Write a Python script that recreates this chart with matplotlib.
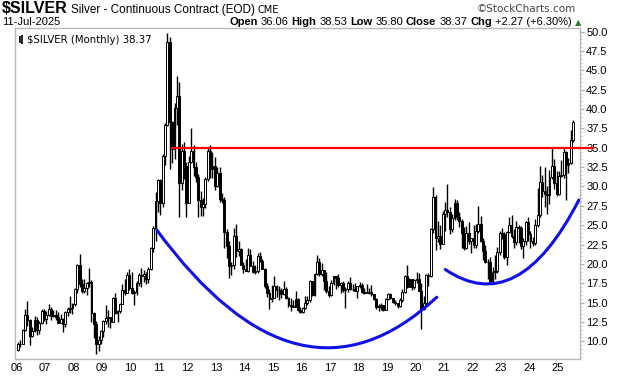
import numpy as np
import matplotlib
matplotlib.use("Agg")
import matplotlib.pyplot as plt
from matplotlib.path import Path
from matplotlib.patches import PathPatch
from matplotlib.ticker import MultipleLocator

# monthly $SILVER candles, Jan 2006 .. Jul 2025
first_open = 8.83
closes = [
    9.61, 9.71, 11.52, 13.45, 12.80, 10.70, 11.30, 12.80, 11.50, 12.40, 13.90, 12.90,
    13.40, 14.20, 13.30, 13.40, 13.20, 12.40, 12.90, 12.20, 13.80, 14.20, 14.30, 14.80,
    16.80, 19.80, 17.40, 16.50, 16.90, 17.50, 17.70, 13.60, 12.30, 9.70, 10.20, 11.30,
    12.60, 13.00, 13.10, 12.50, 15.60, 13.60, 13.90, 14.80, 16.60, 16.20, 18.60, 16.90,
    16.20, 16.40, 17.50, 18.60, 18.40, 18.70, 18.00, 19.40, 22.00, 24.70, 28.10, 30.90,
    27.90, 33.90, 37.90, 48.60, 38.30, 34.90, 40.10, 41.70, 30.40, 34.60, 32.70, 27.90,
    33.20, 34.60, 32.50, 31.20, 28.20, 27.40, 27.80, 31.00, 34.60, 32.20, 32.70, 30.00,
    31.70, 28.40, 28.30, 24.10, 22.30, 19.70, 19.80, 23.60, 21.70, 21.90, 19.80, 19.40,
    19.10, 21.20, 19.70, 19.00, 19.10, 21.00, 20.40, 19.40, 17.10, 16.20, 15.50, 15.60,
    17.20, 16.60, 16.60, 16.10, 16.80, 15.60, 14.70, 14.60, 14.50, 15.50, 14.10, 13.80,
    14.30, 14.90, 15.40, 17.80, 16.00, 18.70, 20.30, 18.70, 19.20, 17.80, 16.50, 16.00,
    17.50, 18.40, 18.20, 17.30, 17.50, 16.60, 16.70, 17.60, 16.70, 16.70, 16.50, 17.10,
    17.30, 16.40, 16.30, 16.30, 16.40, 16.10, 15.50, 14.50, 14.60, 14.70, 14.10, 15.50,
    16.10, 15.60, 15.10, 14.90, 14.60, 15.30, 16.40, 18.40, 17.00, 18.10, 17.00, 17.90,
    18.00, 16.50, 14.20, 15.00, 18.60, 18.50, 24.50, 28.70, 23.40, 23.60, 22.60, 26.40,
    26.90, 26.70, 24.50, 25.90, 27.90, 26.10, 25.50, 24.00, 22.00, 24.00, 23.00, 23.30,
    22.40, 24.30, 25.10, 23.00, 21.70, 20.30, 20.20, 17.80, 19.00, 19.10, 21.60, 24.00,
    23.90, 20.90, 24.10, 25.00, 23.60, 22.80, 24.80, 24.70, 22.30, 22.90, 25.40, 23.80,
    23.00, 22.70, 25.00, 26.30, 30.60, 29.40, 29.00, 28.90, 31.20, 32.70, 30.50, 29.00,
    31.30, 31.50, 34.40, 32.80, 33.00, 36.06, 38.37,
]
highs = [
    9.98, 10.15, 11.60, 14.20, 15.20, 12.90, 11.80, 13.30, 13.10, 12.60, 14.20, 14.20,
    13.90, 14.80, 14.50, 14.10, 14.00, 13.80, 13.50, 13.00, 13.90, 14.50, 15.80, 14.90,
    16.90, 20.00, 21.30, 18.10, 18.10, 17.70, 19.50, 17.90, 13.80, 12.60, 10.70, 11.50,
    12.70, 14.70, 14.10, 13.20, 15.70, 16.20, 14.10, 15.00, 17.40, 18.10, 19.00, 19.40,
    18.90, 16.60, 17.80, 18.80, 19.50, 19.20, 19.00, 19.60, 22.20, 24.90, 29.30, 31.00,
    31.00, 34.20, 38.20, 49.80, 49.30, 38.50, 40.80, 44.30, 43.50, 35.50, 35.70, 33.10,
    34.00, 37.50, 35.40, 33.20, 31.60, 29.40, 28.50, 31.20, 35.00, 35.40, 34.50, 33.80,
    32.50, 32.50, 29.20, 28.60, 24.50, 23.00, 20.30, 24.70, 25.10, 22.90, 22.10, 20.30,
    20.60, 22.00, 21.90, 20.40, 19.80, 21.40, 21.60, 20.60, 19.50, 17.50, 16.70, 17.30,
    18.50, 17.30, 17.10, 16.90, 17.80, 17.00, 15.70, 15.60, 15.40, 16.50, 15.60, 14.50,
    14.50, 15.80, 15.90, 17.90, 17.80, 18.80, 21.20, 20.80, 20.10, 19.20, 18.90, 17.20,
    17.90, 18.50, 18.50, 18.70, 17.70, 17.80, 17.00, 17.80, 18.30, 17.40, 17.50, 17.20,
    17.70, 17.60, 16.90, 17.40, 16.90, 17.30, 16.10, 15.60, 14.80, 14.90, 14.70, 15.60,
    16.20, 16.20, 15.60, 15.30, 15.00, 15.60, 16.70, 18.60, 19.80, 18.20, 18.10, 18.10,
    18.90, 18.80, 17.60, 15.80, 18.70, 18.80, 24.70, 29.90, 28.90, 25.50, 25.00, 26.80,
    28.00, 30.30, 27.30, 26.50, 28.40, 28.30, 26.70, 25.80, 24.80, 24.90, 25.40, 23.40,
    25.00, 25.20, 27.50, 26.20, 23.30, 22.50, 20.60, 20.90, 19.60, 21.20, 22.20, 24.30,
    24.60, 24.10, 24.20, 26.10, 26.30, 24.50, 25.50, 25.00, 24.90, 23.40, 25.50, 26.00,
    24.20, 23.50, 25.80, 29.80, 32.70, 31.50, 32.50, 30.00, 32.10, 35.10, 33.50, 32.00,
    32.00, 33.40, 35.00, 34.60, 33.70, 37.30, 38.53,
]
lows = [
    8.80, 9.25, 9.75, 11.40, 12.00, 9.50, 10.50, 11.20, 10.85, 11.00, 12.30, 12.60,
    12.30, 13.30, 12.70, 13.20, 12.70, 12.40, 12.40, 11.20, 11.90, 13.30, 13.70, 13.50,
    14.60, 16.20, 17.00, 16.30, 16.20, 16.00, 17.00, 12.50, 10.40, 8.40, 8.80, 9.60,
    10.50, 12.30, 11.80, 11.70, 12.50, 13.50, 12.50, 13.70, 14.80, 16.00, 16.20, 16.60,
    16.10, 14.70, 16.00, 17.20, 17.00, 17.70, 17.40, 17.60, 19.20, 21.60, 23.00, 26.70,
    26.30, 27.30, 32.80, 37.80, 32.30, 33.00, 33.50, 38.00, 26.10, 29.50, 31.00, 26.10,
    28.00, 33.00, 31.40, 30.60, 26.00, 26.20, 26.20, 27.20, 30.70, 31.10, 31.10, 29.50,
    29.90, 28.00, 27.90, 22.00, 20.80, 18.20, 18.60, 19.40, 20.90, 21.00, 19.80, 18.80,
    19.10, 19.00, 19.70, 18.80, 18.70, 18.80, 20.30, 19.40, 16.90, 15.70, 14.20, 15.10,
    15.60, 15.70, 15.30, 15.60, 16.00, 15.50, 14.40, 13.90, 14.40, 14.40, 13.90, 13.60,
    13.60, 14.20, 14.70, 15.10, 15.80, 15.90, 18.60, 18.50, 18.50, 16.60, 16.20, 15.70,
    15.90, 17.30, 16.80, 17.00, 16.20, 16.40, 14.30, 16.40, 16.60, 16.50, 16.60, 15.60,
    16.90, 16.20, 16.10, 16.20, 16.10, 15.90, 15.30, 14.20, 13.90, 14.10, 13.90, 14.00,
    15.30, 15.50, 14.90, 14.70, 14.30, 14.40, 15.10, 16.30, 16.90, 17.00, 16.60, 16.70,
    17.60, 16.50, 11.60, 14.00, 14.60, 17.20, 18.30, 24.00, 21.80, 22.80, 21.90, 22.60,
    24.20, 26.10, 23.80, 24.10, 25.70, 25.70, 24.80, 22.00, 21.80, 21.90, 22.60, 21.40,
    22.00, 22.00, 24.00, 22.80, 20.50, 20.10, 18.10, 17.60, 17.60, 18.10, 18.80, 21.20,
    23.20, 20.60, 19.90, 24.00, 23.30, 22.10, 22.50, 22.70, 21.90, 20.70, 22.50, 23.00,
    22.00, 22.30, 22.50, 24.80, 26.00, 28.60, 27.40, 26.50, 27.80, 31.00, 29.70, 28.80,
    28.90, 31.20, 31.10, 28.30, 31.70, 32.90, 35.80,
]
opens = [first_open] + closes[:-1]

year_labels = ["06", "07", "08", "09", "10", "11", "12", "13", "14", "15",
               "16", "17", "18", "19", "20", "21", "22", "23", "24", "25"]
y_ticks = [10.0, 12.5, 15.0, 17.5, 20.0, 22.5, 25.0, 27.5, 30.0, 32.5,
           35.0, 37.5, 40.0, 42.5, 45.0, 47.5, 50.0]

resistance = 35.0
resistance_from = 2011.44
# hand drawn bowls (start, control, end) as quadratic curves
bowl_1 = [(2010.92, 24.37), (2015.95, -0.80), (2020.75, 15.70)]
bowl_2 = [(2021.05, 19.28), (2023.60, 12.90), (2025.74, 28.25)]

W, H = 620, 376
fig = plt.figure(figsize=(W / 100, H / 100), dpi=100)
ax = fig.add_axes([15 / W, 1 - 359 / H, (580 - 15) / W, (359 - 28) / H])

x = 2006 + np.arange(len(closes)) / 12 + 1 / 24
o = np.array(opens)
c = np.array(closes)
up = c >= o

ax.vlines(x, lows, highs, color="black", lw=1.0, zorder=2)
bottom = np.minimum(o, c)
height = np.maximum(np.abs(c - o), 0.05)
ax.bar(x[up], height[up], bottom=bottom[up], width=0.065, facecolor="white",
       edgecolor="black", lw=0.7, zorder=3)
ax.bar(x[~up], height[~up], bottom=bottom[~up], width=0.065, facecolor="black",
       edgecolor="black", lw=0.7, zorder=3)

ax.plot([resistance_from, 2026.22], [resistance, resistance], color="#ff0000",
        lw=1.6, clip_on=False, zorder=5)

for bowl in (bowl_1, bowl_2):
    p = Path(bowl, [Path.MOVETO, Path.CURVE3, Path.CURVE3])
    ax.add_patch(PathPatch(p, facecolor="none", edgecolor="#1010e8", lw=2.2,
                           zorder=4, capstyle="round"))

ax.set_xlim(2005.94, 2025.78)
ax.set_ylim(7.72, 50.47)
ax.set_xticks(np.arange(2006, 2026))
ax.set_xticklabels(year_labels)
ax.set_yticks(y_ticks)
ax.set_yticklabels([f"{v:.1f}" for v in y_ticks])
ax.yaxis.set_minor_locator(MultipleLocator(0.5))
ax.yaxis.tick_right()
ax.tick_params(axis="y", which="major", length=3, width=0.8, color="#aaaaaa",
               labelsize=8, pad=1.5)
ax.tick_params(axis="y", which="minor", length=1.5, width=0.6, color="#bbbbbb")
ax.tick_params(axis="x", length=0, labelsize=8, pad=3)
for lab in ax.get_xticklabels() + ax.get_yticklabels():
    lab.set_family(["Liberation Sans", "DejaVu Sans"])
for s in ax.spines.values():
    s.set_color("#b8b8b8")
    s.set_linewidth(1.0)

# legend inside the plot
ax.vlines([0.008, 0.013], [0.955, 0.952], [0.975, 0.978], transform=ax.transAxes,
          color="black", lw=1.2)
ax.text(0.021, 0.965, "$SILVER (Monthly) 38.37", transform=ax.transAxes,
        fontsize=7.3, family="DejaVu Sans", va="center", ha="left")

renderer = fig.canvas.get_renderer()


def run(x_px, y_px, pieces, gap=3):
    for text, kw in pieces:
        t = fig.text(x_px / W, 1 - y_px / H, text, va="baseline", ha="left", **kw)
        bb = t.get_window_extent(renderer)
        x_px = bb.x1 + gap
    return x_px


narrow = ["Liberation Sans Narrow", "Liberation Sans", "DejaVu Sans"]
sans = ["Liberation Sans", "DejaVu Sans"]
run(2, 13, [("$SILVER", dict(fontsize=11.5, weight="bold", family=narrow)),
            ("Silver - Continuous Contract (EOD)", dict(fontsize=8.5, family=narrow)),
            ("CME", dict(fontsize=7, family="DejaVu Sans"))])
fig.text(576 / W, 1 - 12 / H, "\u00a9StockCharts.com", ha="right", va="baseline",
         fontsize=7.5, family="DejaVu Sans", color="#444444")
fig.text(2 / W, 1 - 25 / H, "11-Jul-2025", ha="left", va="baseline",
         fontsize=8, family=sans)
b = dict(fontsize=8, weight="bold", family=sans)
r = dict(fontsize=8, family=sans)
run(229, 25, [("Open", b), ("36.06", r), ("High", b), ("38.53", r), ("Low", b),
              ("35.80", r), ("Close", b), ("38.37", r), ("Chg", b),
              ("+2.27 (+6.30%)", r),
              ("\u25b2", dict(fontsize=6, family=["DejaVu Sans"], color="#2e7d32"))])

fig.savefig("out.png", dpi=100)
